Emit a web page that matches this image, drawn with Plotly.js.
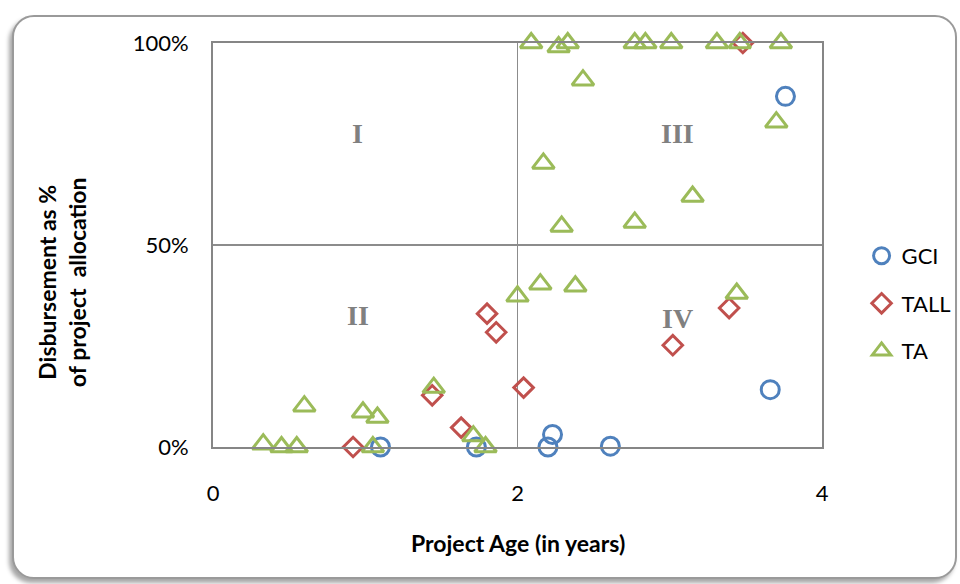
<!DOCTYPE html>
<html>
<head>
<meta charset="utf-8">
<script src="https://cdn.plot.ly/plotly-3.0.1.min.js"></script>
<style>
  html, body { margin: 0; padding: 0; background: #ffffff; }
  #frame { position: absolute; left: 12px; top: 15px; width: 941px; height: 560px;
           border: 2px solid #9a9a9a; border-radius: 22px; background: #ffffff;
           box-shadow: -3px 4px 4px rgba(0,0,0,0.35); }
  #chart { position: absolute; left: 0; top: 0; width: 960px; height: 584px; }
</style>
</head>
<body>
<div id="frame"></div>
<div id="chart"></div>
<script>
// Project age (years) and disbursement share (fraction of allocation)
const gciAge  = [1.10, 1.73, 2.20, 2.23, 2.61, 3.66, 3.76];
const gciDisb = [0.000, 0.000, 0.000, 0.031, 0.002, 0.142, 0.868];

const tallAge  = [0.92, 1.44, 1.63, 1.80, 1.86, 2.04, 3.02, 3.39, 3.48];
const tallDisb = [0.000, 0.128, 0.048, 0.330, 0.284, 0.147, 0.252, 0.344, 1.000];

const taAge  = [0.33, 0.45, 0.55, 0.60, 0.985, 1.05, 1.08, 1.45, 1.71, 1.79,
                2.00, 2.09, 2.15, 2.17, 2.27, 2.29, 2.33, 2.38, 2.43, 2.77,
                2.77, 2.84, 3.01, 3.15, 3.31, 3.44, 3.46, 3.70, 3.73];
const taDisb = [0.007, 0.000, 0.000, 0.101, 0.086, 0.000, 0.073, 0.147, 0.027, 0.000,
                0.373, 1.000, 0.403, 0.702, 0.990, 0.546, 1.000, 0.398, 0.908, 0.556,
                1.000, 1.000, 1.000, 0.620, 1.000, 0.380, 1.000, 0.804, 1.000];

const seriesNames = ["GCI", "TALL", "TA"];
const quadrantLabels = ["I", "II", "III", "IV"];
const quadrantX = [0.95, 0.95, 3.05, 3.05];
const quadrantY = [0.775, 0.325, 0.775, 0.318];
const xTicks = [0, 2, 4];
const yTicks = [0, 0.5, 1];
const yTickText = ["0%", "50%", "100%"];

const FONT = "Lato, 'Open Sans', 'DejaVu Sans', sans-serif";

const traces = [
  { x: gciAge, y: gciDisb, name: seriesNames[0], legendgroup: "g1", type: "scatter", mode: "markers", cliponaxis: false,
    marker: { symbol: "circle-open", size: 18, color: "#4F81BD", line: { width: 3, color: "#4F81BD" } } },
  { x: tallAge, y: tallDisb, name: seriesNames[1], legendgroup: "g2", type: "scatter", mode: "markers", cliponaxis: false,
    marker: { symbol: "diamond-open", size: 15, color: "#C0504D", line: { width: 3, color: "#C0504D" } } },
  { x: taAge, y: taDisb, name: seriesNames[2], legendgroup: "g3", type: "scatter", mode: "markers", cliponaxis: false,
    marker: { symbol: "triangle-up-open", size: 19, color: "#9BBB59", line: { width: 3, color: "#9BBB59" } } }
];

const annotations = quadrantLabels.map((t, i) => ({
  x: quadrantX[i], y: quadrantY[i], xref: "x", yref: "y", text: t, showarrow: false,
  xanchor: "center", yanchor: "middle",
  font: { family: "'Liberation Serif', 'Times New Roman', serif", size: 28, color: "#808080", weight: "bold" }
}));
annotations.push({
  xref: "paper", yref: "paper", x: -0.248, y: 0.408, textangle: -90, showarrow: false,
  xanchor: "center", yanchor: "middle",
  text: "<b>Disbursement as %<br>of project  allocation</b>",
  font: { family: FONT, size: 23, color: "#000000" }
});
annotations.push({
  xref: "paper", yref: "paper", x: 0.5, y: -0.238, showarrow: false,
  xanchor: "center", yanchor: "middle",
  text: "<b>Project Age (in years)</b>",
  font: { family: FONT, size: 23, color: "#000000" }
});

const layout = {
  width: 960, height: 584,
  margin: { l: 213, r: 138, t: 42.7, b: 137.3, autoexpand: false },
  paper_bgcolor: "rgba(0,0,0,0)", plot_bgcolor: "#ffffff",
  font: { family: FONT, size: 20, color: "#000000" },
  showlegend: true,
  legend: { x: 1.065, y: 0.525, xanchor: "left", yanchor: "top", traceorder: "grouped",
            tracegroupgap: 16, font: { family: FONT, size: 22, color: "#000000" },
            bgcolor: "rgba(0,0,0,0)", itemwidth: 30 },
  xaxis: { range: [0, 4], tickvals: xTicks, ticktext: xTicks.map(String),
           showgrid: true, gridcolor: "#8c8c8c", gridwidth: 1.5,
           showline: true, linecolor: "#868686", linewidth: 2, mirror: true,
           zeroline: false, ticks: "outside", ticklen: 26, tickcolor: "rgba(0,0,0,0)",
           tickfont: { family: FONT, size: 22, color: "#000000" }, fixedrange: true },
  yaxis: { range: [0, 1], tickvals: yTicks, ticktext: yTickText,
           showgrid: true, gridcolor: "#8c8c8c", gridwidth: 1.5,
           showline: true, linecolor: "#868686", linewidth: 2, mirror: true,
           zeroline: false, ticks: "outside", ticklen: 18, tickcolor: "rgba(0,0,0,0)",
           tickfont: { family: FONT, size: 22, color: "#000000" }, fixedrange: true },
  annotations: annotations
};

Plotly.newPlot("chart", traces, layout, { displayModeBar: false, staticPlot: true });
</script>
</body>
</html>
